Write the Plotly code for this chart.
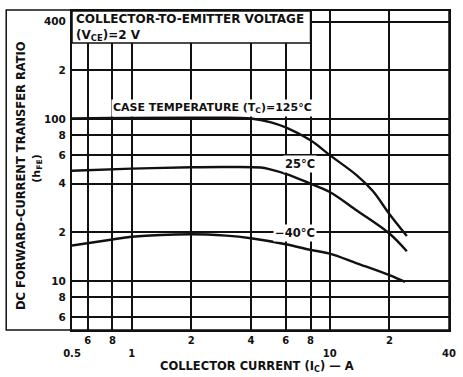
import plotly.graph_objects as go
import numpy as np

# Collector current (A) and DC current gain hFE for each case temperature
ic_125 = [0.5, 1, 2, 3, 4, 5, 6, 8, 10, 13.7, 16.5, 20, 24.5]
hfe_125 = [101, 102, 103, 103, 101, 96, 89, 74, 60, 45, 36, 26, 19]

ic_25 = [0.5, 1, 2, 3, 4.5, 5, 6, 8, 10, 13.7, 20, 24.5]
hfe_25 = [48, 49.5, 50.5, 50.7, 50.3, 49, 46, 40, 35.5, 27.3, 19.7, 15.3]

ic_m40 = [0.5, 0.8, 1, 2, 3, 4, 6, 8, 10, 13.7, 20, 24]
hfe_m40 = [16.6, 18.1, 18.8, 19.5, 19.1, 18.4, 16.9, 15.6, 14.8, 12.9, 10.9, 9.9]

x_tickvals = [0.5, 0.6, 0.8, 1, 2, 4, 6, 8, 10, 20, 40]
x_ticktext = [" <br>0.5", "6", "8", " <br>1", "2", "4", "6", "8", " <br>10", "2", " <br>40"]
y_tickvals = [6, 8, 10, 20, 40, 60, 80, 100, 200, 400]
y_ticktext = ["6", "8", "10", "2", "4", "6", "8", "100", "2", "400"]

FONT = "DejaVu Sans"
INK = "#111111"


def bold(s):
    return "<b>" + s + "</b>"


fig = go.Figure()
for ic, hfe in [(ic_125, hfe_125), (ic_25, hfe_25), (ic_m40, hfe_m40)]:
    fig.add_trace(go.Scatter(x=ic, y=hfe, mode="lines", line_shape="spline",
                             line=dict(color=INK, width=2.4), showlegend=False,
                             hoverinfo="skip"))

fig.update_layout(
    width=463, height=377,
    margin=dict(l=72, r=7, t=11, b=47),
    paper_bgcolor="white", plot_bgcolor="white",
    font=dict(family=FONT, color=INK, size=10),
    xaxis=dict(type="log", range=[np.log10(0.5), np.log10(40)],
               tickvals=x_tickvals, ticktext=[bold(t) for t in x_ticktext], tickangle=0,
               showgrid=True, gridcolor=INK, gridwidth=2,
               showline=True, linecolor=INK, linewidth=2, mirror=True,
               zeroline=False, ticks="", tickfont=dict(size=10, family=FONT),
               ticklabelstandoff=0),
    yaxis=dict(type="log", range=[np.log10(5), np.log10(465)],
               tickvals=y_tickvals, ticktext=[bold(t) for t in y_ticktext],
               showgrid=True, gridcolor=INK, gridwidth=1.5,
               showline=True, linecolor=INK, linewidth=2, mirror=True,
               zeroline=False, ticks="", tickfont=dict(size=10.5, family=FONT),
               ticklabelstandoff=2),
)

# outer frame enclosing the axis title area
fig.add_shape(type="rect", xref="paper", yref="paper",
              x0=-67 / 384, x1=1, y0=0, y1=1.003,
              line=dict(color=INK, width=1.5), layer="above")

# condition note box
fig.add_shape(type="rect", xref="x", yref="y",
              x0=0.5, x1=8, y0=295, y1=465,
              fillcolor="white", line=dict(color=INK, width=1.5), layer="above")
fig.add_annotation(x=0.006, xref="paper", y=1.003, yref="paper",
                   xanchor="left", yanchor="top", showarrow=False, align="left",
                   text=bold("COLLECTOR-TO-EMITTER VOLTAGE<br>(V<sub>CE</sub>)=2 V"),
                   font=dict(size=12, family=FONT, color=INK))

# curve labels
fig.add_annotation(x=np.log10(2.55), y=np.log10(117), xref="x", yref="y",
                   xanchor="center", yanchor="middle",
                   text=bold("CASE TEMPERATURE (T<sub>C</sub>)=125°C"), showarrow=False,
                   font=dict(size=11, family=FONT, color=INK), bgcolor="white")
fig.add_annotation(x=np.log10(8.6), y=np.log10(53), xref="x", yref="y",
                   xanchor="right", yanchor="middle", text=bold("25°C"), showarrow=False,
                   font=dict(size=11.5, family=FONT, color=INK), bgcolor="white")
fig.add_annotation(x=np.log10(8.6), y=np.log10(19.8), xref="x", yref="y",
                   xanchor="right", yanchor="middle", text=bold("−40°C"), showarrow=False,
                   font=dict(size=11.5, family=FONT, color=INK), bgcolor="white")

# axis titles
fig.add_annotation(x=-52 / 384, xref="paper", y=(330 - 175) / 319, yref="paper",
                   xanchor="center", yanchor="middle",
                   text=bold("DC FORWARD-CURRENT TRANSFER RATIO"), textangle=-90,
                   showarrow=False, font=dict(size=11.5, family=FONT, color=INK))
fig.add_annotation(x=-36 / 384, xref="paper", y=(330 - 169) / 319, yref="paper",
                   xanchor="center", yanchor="middle",
                   text=bold("(h<sub>FE</sub>)"), textangle=-90,
                   showarrow=False, font=dict(size=11, family=FONT, color=INK))
fig.add_annotation(x=(260 - 72) / 384, xref="paper", y=-36 / 319, yref="paper",
                   xanchor="center", yanchor="middle",
                   text=bold("COLLECTOR CURRENT (I<sub>C</sub>) — A"), showarrow=False,
                   font=dict(size=11.5, family=FONT, color=INK))

fig.write_html("out.html")
